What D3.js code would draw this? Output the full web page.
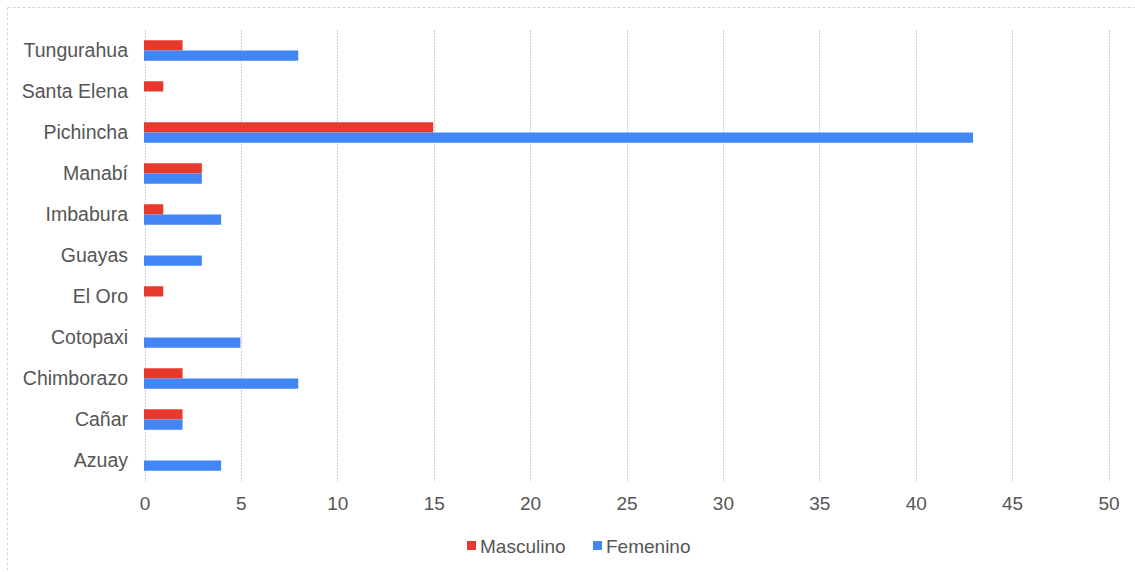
<!DOCTYPE html>
<html>
<head>
<meta charset="utf-8">
<script src="https://cdn.jsdelivr.net/npm/d3@7"></script>
<style>
  html, body { margin: 0; padding: 0; background: #fff; }
  svg { display: block; font-family: "Liberation Sans", Arial, sans-serif; }
</style>
</head>
<body>
<svg id="chart" width="1135" height="572"></svg>
<script>
// Provinces, top to bottom
const provinces = ["Tungurahua", "Santa Elena", "Pichincha", "Manabí", "Imbabura", "Guayas", "El Oro", "Cotopaxi", "Chimborazo", "Cañar", "Azuay"];
const masculino = [2, 1, 15, 3, 1, 0, 1, 0, 2, 2, 0];
const femenino  = [8, 0, 43, 3, 4, 3, 0, 5, 8, 2, 4];
const seriesNames = ["Masculino", "Femenino"];
const seriesColors = ["#e8392e", "#4285f4"];
const xTicks = [0, 5, 10, 15, 20, 25, 30, 35, 40, 45, 50];

const svg = d3.select("#chart");
const W = 1135, H = 572;

// dashed frame lines along the top and left edges
const frame = svg.append("g").attr("stroke", "#d6d6d6").attr("stroke-dasharray", "3,2");
frame.append("line").attr("x1", 7.5).attr("x2", W).attr("y1", 7.5).attr("y2", 7.5);
frame.append("line").attr("x1", 7.5).attr("x2", 7.5).attr("y1", 7.5).attr("y2", H);

const x = d3.scaleLinear().domain([0, 50]).range([144.5, 1108.5]);
const y = d3.scaleBand().domain(provinces).range([30, 481]).paddingInner(0.5).paddingOuter(0.25);
const sub = d3.scaleBand().domain(seriesNames).range([0, y.bandwidth()]);

// vertical grid lines
svg.append("g")
  .selectAll("line")
  .data(xTicks)
  .join("line")
  .attr("x1", d => Math.round(x(d)) + 0.5)
  .attr("x2", d => Math.round(x(d)) + 0.5)
  .attr("y1", 30).attr("y2", 481)
  .attr("stroke", "#cfcfcf")
  .attr("stroke-dasharray", "2,1");

// x axis tick labels
const xAxis = d3.axisBottom(x).tickValues(xTicks).tickSize(0).tickPadding(0);
const gx = svg.append("g").attr("transform", "translate(0,496)").call(xAxis);
gx.select(".domain").remove();
gx.selectAll("text")
  .attr("dy", "0.71em")
  .attr("font-size", 19)
  .attr("font-family", "Liberation Sans, Arial, sans-serif")
  .attr("fill", "#555");

// y axis category labels
const yAxis = d3.axisLeft(y).tickSize(0).tickPadding(0);
const gy = svg.append("g").attr("transform", "translate(128,0)").call(yAxis);
gy.select(".domain").remove();
gy.selectAll("text")
  .attr("font-size", 19.5)
  .attr("font-family", "Liberation Sans, Arial, sans-serif")
  .attr("fill", "#555");

// bars
const rows = provinces.map((p, i) => ({ p, vals: [masculino[i], femenino[i]] }));
const groups = svg.append("g")
  .selectAll("g")
  .data(rows)
  .join("g")
  .attr("transform", d => `translate(0,${y(d.p)})`);

groups.selectAll("rect")
  .data(d => d.vals.map((v, j) => ({ v, s: seriesNames[j], c: seriesColors[j] })))
  .join("rect")
  .attr("x", x(0) - 0.5)
  .attr("y", d => sub(d.s))
  .attr("width", d => x(d.v) - x(0))
  .attr("height", sub.bandwidth())
  .attr("fill", d => d.c);

// legend
const legend = svg.append("g").attr("transform", "translate(467,546)");
const items = [{ n: seriesNames[0], c: seriesColors[0], dx: 0 }, { n: seriesNames[1], c: seriesColors[1], dx: 126 }];
const li = legend.selectAll("g").data(items).join("g").attr("transform", d => `translate(${d.dx},0)`);
li.append("rect").attr("x", 0).attr("y", -5).attr("width", 9).attr("height", 9).attr("fill", d => d.c);
li.append("text")
  .attr("x", 13).attr("y", 0).attr("dy", "0.35em")
  .attr("font-size", 19)
  .attr("fill", "#555")
  .text(d => d.n);
</script>
</body>
</html>
